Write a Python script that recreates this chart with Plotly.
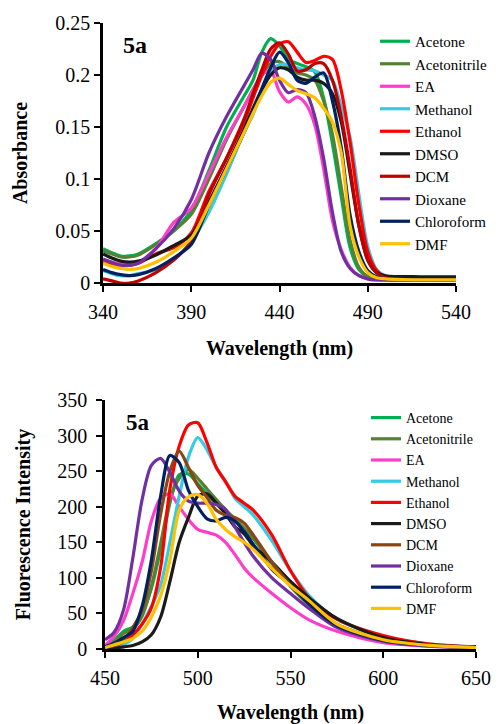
import plotly.graph_objects as go

FONT = "Liberation Serif, Times New Roman, DejaVu Serif, serif"

solvents = ["Acetone", "Acetonitrile", "EA", "Methanol", "Ethanol",
            "DMSO", "DCM", "Dioxane", "Chloroform", "DMF"]
colors_abs = ["#00B050", "#548235", "#FF3DCB", "#33CCE3", "#FF0000",
              "#1A1A1A", "#C00000", "#7030A0", "#002060", "#FFC000"]
colors_fl = ["#00B050", "#548235", "#FF3DCB", "#33CCE3", "#FF0000",
             "#1A1A1A", "#8B4513", "#7030A0", "#002060", "#FFC000"]

# ---------------- Absorbance (top) ----------------
wl_abs = [340, 345, 350, 355, 360, 370, 380, 390, 400, 410, 420, 425, 430, 435,
          440, 445, 450, 455, 460, 465, 470, 475, 480, 485, 490, 495, 500, 520, 540]

abs_acetone = [0.033, 0.029, 0.026, 0.026, 0.028, 0.038, 0.050, 0.070, 0.108, 0.150, 0.180, 0.195, 0.222, 0.235,
               0.228, 0.215, 0.211, 0.208, 0.203, 0.178, 0.134, 0.083, 0.034, 0.013, 0.006, 0.004, 0.003, 0.003, 0.003]
abs_acetonitrile = [0.031, 0.028, 0.025, 0.025, 0.027, 0.037, 0.050, 0.066, 0.100, 0.138, 0.170, 0.186, 0.200, 0.211,
                    0.213, 0.207, 0.202, 0.200, 0.195, 0.175, 0.143, 0.092, 0.041, 0.015, 0.006, 0.004, 0.003, 0.003, 0.003]
abs_ea = [0.022, 0.020, 0.018, 0.018, 0.020, 0.033, 0.058, 0.072, 0.105, 0.140, 0.170, 0.185, 0.200, 0.204,
          0.184, 0.174, 0.179, 0.172, 0.152, 0.110, 0.060, 0.032, 0.015, 0.007, 0.004, 0.003, 0.003, 0.003, 0.003]
abs_methanol = [0.012, 0.009, 0.007, 0.007, 0.009, 0.013, 0.022, 0.040, 0.068, 0.105, 0.145, 0.162, 0.185, 0.203,
                0.210, 0.210, 0.207, 0.205, 0.204, 0.200, 0.195, 0.170, 0.140, 0.085, 0.035, 0.013, 0.007, 0.004, 0.004]
abs_ethanol = [0.020, 0.018, 0.017, 0.017, 0.019, 0.028, 0.034, 0.048, 0.088, 0.120, 0.155, 0.178, 0.200, 0.218,
               0.230, 0.232, 0.222, 0.212, 0.214, 0.218, 0.215, 0.185, 0.135, 0.075, 0.030, 0.012, 0.006, 0.004, 0.004]
abs_dmso = [0.028, 0.024, 0.021, 0.020, 0.021, 0.027, 0.036, 0.046, 0.078, 0.112, 0.148, 0.168, 0.186, 0.200,
            0.207, 0.205, 0.198, 0.195, 0.195, 0.192, 0.182, 0.155, 0.105, 0.055, 0.022, 0.010, 0.007, 0.006, 0.006]
abs_dcm = [0.004, 0.002, 0.000, 0.000, 0.002, 0.010, 0.022, 0.040, 0.085, 0.120, 0.158, 0.182, 0.205, 0.225,
           0.231, 0.220, 0.204, 0.205, 0.211, 0.211, 0.195, 0.160, 0.110, 0.055, 0.022, 0.010, 0.005, 0.003, 0.003]
abs_dioxane = [0.023, 0.020, 0.017, 0.017, 0.019, 0.033, 0.052, 0.080, 0.125, 0.160, 0.190, 0.205, 0.221, 0.215,
               0.195, 0.183, 0.186, 0.183, 0.160, 0.120, 0.068, 0.030, 0.014, 0.007, 0.004, 0.003, 0.003, 0.003, 0.003]
abs_chloroform = [0.013, 0.010, 0.008, 0.007, 0.008, 0.014, 0.024, 0.037, 0.075, 0.110, 0.145, 0.165, 0.187, 0.207,
                  0.222, 0.212, 0.195, 0.192, 0.198, 0.202, 0.175, 0.130, 0.065, 0.030, 0.012, 0.006, 0.004, 0.003, 0.003]
abs_dmf = [0.019, 0.016, 0.014, 0.013, 0.014, 0.020, 0.030, 0.043, 0.075, 0.110, 0.145, 0.163, 0.180, 0.193,
           0.197, 0.191, 0.185, 0.182, 0.178, 0.168, 0.155, 0.125, 0.055, 0.025, 0.010, 0.005, 0.004, 0.003, 0.003]

abs_series = [abs_acetone, abs_acetonitrile, abs_ea, abs_methanol, abs_ethanol,
              abs_dmso, abs_dcm, abs_dioxane, abs_chloroform, abs_dmf]

# ---------------- Fluorescence (bottom) ----------------
wl_fl = [450, 455, 460, 465, 470, 475, 480, 485, 490, 495, 500, 505, 510, 515,
         520, 525, 530, 540, 550, 560, 575, 600, 625, 650]

fl_acetone = [3, 12, 25, 31, 50, 85, 140, 205, 245, 246, 232, 218, 204, 192,
              180, 168, 155, 121, 89, 63, 34, 12, 5, 2]
fl_acetonitrile = [3, 10, 22, 28, 46, 88, 148, 210, 240, 252, 240, 225, 210, 196,
                   183, 170, 156, 120, 88, 62, 33, 12, 5, 2]
fl_ea = [5, 18, 40, 78, 122, 180, 212, 218, 200, 182, 168, 164, 160, 150,
         133, 114, 100, 78, 58, 41, 25, 9, 4, 2]
fl_methanol = [2, 3, 6, 15, 35, 60, 90, 150, 215, 270, 297, 280, 255, 236,
               212, 200, 188, 152, 110, 75, 42, 17, 7, 3]
fl_ethanol = [3, 5, 10, 20, 35, 58, 115, 225, 285, 315, 318, 290, 255, 235,
              215, 205, 195, 160, 110, 72, 42, 19, 7, 3]
fl_dmso = [0, 1, 3, 5, 10, 20, 45, 95, 150, 185, 215, 218, 205, 190,
           172, 162, 145, 122, 95, 72, 43, 16, 6, 3]
fl_dcm = [3, 5, 12, 30, 55, 110, 190, 250, 278, 255, 230, 213, 195, 188,
          185, 177, 160, 122, 90, 65, 35, 13, 5, 2]
fl_dioxane = [13, 24, 55, 128, 210, 258, 268, 248, 222, 208, 205, 205, 203, 196,
              172, 150, 130, 100, 78, 57, 30, 11, 4, 2]
fl_chloroform = [3, 8, 16, 25, 60, 125, 215, 272, 262, 223, 200, 183, 180, 185,
                 180, 165, 147, 112, 90, 63, 33, 12, 5, 2]
fl_dmf = [2, 6, 10, 15, 25, 45, 75, 125, 195, 214, 217, 205, 182, 168,
          158, 150, 140, 113, 89, 68, 35, 13, 5, 2]

fl_series = [fl_acetone, fl_acetonitrile, fl_ea, fl_methanol, fl_ethanol,
             fl_dmso, fl_dcm, fl_dioxane, fl_chloroform, fl_dmf]

fig = go.Figure()

for name, col, ys in zip(solvents, colors_abs, abs_series):
    fig.add_trace(go.Scatter(x=wl_abs, y=ys, name=name, mode="lines",
                             line=dict(color=col, width=3.2, shape="spline", smoothing=0.8),
                             xaxis="x", yaxis="y", legend="legend"))

for name, col, ys in zip(solvents, colors_fl, fl_series):
    fig.add_trace(go.Scatter(x=wl_fl, y=ys, name=name, mode="lines",
                             line=dict(color=col, width=3.2, shape="spline", smoothing=0.8),
                             xaxis="x2", yaxis="y2", legend="legend2"))

# the page body adds an 8 px offset; the figure is sized so it fills the 500x724 window
OFF = 8.0
W = 500.0 - OFF
H = 724.0 - OFF


def px_x(p):
    return (p - OFF) / W


def px_y(p):
    return 1 - (p - OFF) / H


axis_common = dict(showline=True, linecolor="black", linewidth=2.5, showgrid=False,
                   zeroline=False, ticks="outside", ticklen=6, tickwidth=2, tickcolor="black",
                   automargin=False,
                   tickfont=dict(family=FONT, size=20, color="black"))
title_font = dict(family=FONT, size=20, color="black")

fig.update_layout(
    width=W, height=H,
    margin=dict(l=0, r=0, t=0, b=0, autoexpand=False),
    paper_bgcolor="white", plot_bgcolor="white",
    font=dict(family=FONT, color="black"),
    xaxis=dict(domain=[px_x(103), px_x(456)], range=[340, 540], tickvals=[340, 390, 440, 490, 540],
               anchor="y", ticklabelstandoff=3,
               title=dict(text="<b>Wavelength (nm)</b>", font=title_font, standoff=20),
               **axis_common),
    yaxis=dict(domain=[px_y(283), px_y(23)], range=[0, 0.25],
               tickvals=[0, 0.05, 0.1, 0.15, 0.2, 0.25],
               ticktext=["0", "0.05", "0.1", "0.15", "0.2", "0.25"], anchor="x",
               title=dict(text="<b>Absorbance</b>", font=title_font, standoff=23),
               **axis_common),
    xaxis2=dict(domain=[px_x(105), px_x(476)], range=[450, 650], tickvals=[450, 500, 550, 600, 650],
                anchor="y2", ticklabelstandoff=3,
                title=dict(text="<b>Wavelength (nm)</b>", font=title_font, standoff=20),
                **axis_common),
    yaxis2=dict(domain=[px_y(649), px_y(400)], range=[0, 350],
                tickvals=[0, 50, 100, 150, 200, 250, 300, 350], anchor="x2",
                ticklabelstandoff=5,
                title=dict(text="<b>Fluorescence Intensity</b>", font=title_font, standoff=22),
                **axis_common),
    legend=dict(x=px_x(375), y=px_y(25), xanchor="left", yanchor="top",
                bgcolor="rgba(0,0,0,0)", borderwidth=0,
                font=dict(family=FONT, size=15, color="black")),
    legend2=dict(x=px_x(366), y=px_y(402), xanchor="left", yanchor="top",
                 bgcolor="rgba(0,0,0,0)", borderwidth=0,
                 font=dict(family=FONT, size=14, color="black")),
    annotations=[
        dict(text="<b>5a</b>", x=px_x(135), y=px_y(45), xref="paper", yref="paper",
             xanchor="center", yanchor="middle",
             showarrow=False, font=dict(family=FONT, size=24, color="black")),
        dict(text="<b>5a</b>", x=px_x(138), y=px_y(422), xref="paper", yref="paper",
             xanchor="center", yanchor="middle",
             showarrow=False, font=dict(family=FONT, size=23, color="black")),
    ],
)

fig.write_html("out.html")
